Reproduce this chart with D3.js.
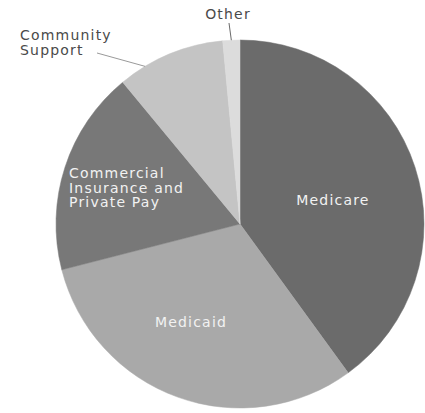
<!DOCTYPE html>
<html>
<head>
<meta charset="utf-8">
<script src="https://cdn.jsdelivr.net/npm/d3@7"></script>
<style>
  html, body { margin: 0; padding: 0; background: #fff; }
  svg { display: block; }
  text { font-family: "DejaVu Sans", sans-serif; }
</style>
</head>
<body>
<svg id="chart" width="425" height="413"></svg>
<script>
const categories = ["Medicare", "Medicaid", "Commercial Insurance and Private Pay", "Community Support", "Other"];
const values = [40, 31, 18, 9.5, 1.5];
const colors = ["#6b6b6b", "#a9a9a9", "#787878", "#c4c4c4", "#dcdcdc"];

const svg = d3.select("#chart");
const cx = 240, cy = 224, r = 184;
const g = svg.append("g").attr("transform", `translate(${cx},${cy})`);

const data = categories.map((c, i) => ({ name: c, value: values[i], color: colors[i] }));
const pie = d3.pie().sort(null).value(d => d.value).startAngle(0).endAngle(2 * Math.PI);
const arcs = pie(data);
const arc = d3.arc().innerRadius(0).outerRadius(r);

g.selectAll("path").data(arcs).enter().append("path")
  .attr("d", arc)
  .attr("fill", d => d.data.color)
  .attr("stroke", d => d.data.color)
  .attr("stroke-width", 0.5);

const fs = 14, ls = 1.2;

// Inside labels
const inside = [
  { i: 0, lines: ["Medicare"], anchor: "middle", dx: 93, dy: -19 },
  { i: 1, lines: ["Medicaid"], anchor: "middle", dx: -49, dy: 103 },
  { i: 2, lines: ["Commercial", "Insurance and", "Private Pay"], anchor: "start", dx: -171, dy: -46 }
];
inside.forEach(l => {
  const t = g.append("text")
    .attr("x", l.dx).attr("y", l.dy)
    .attr("text-anchor", l.anchor)
    .attr("fill", "#f2f2f2")
    .attr("font-size", fs)
    .attr("letter-spacing", ls);
  l.lines.forEach((s, k) => {
    t.append("tspan").attr("x", l.dx).attr("dy", k === 0 ? 0 : 14.5).text(s);
  });
});

function edgePoint(a, rr) {
  return [Math.sin(a) * rr, -Math.cos(a) * rr];
}
// Community Support
const cs = arcs[3];
const csA = cs.startAngle + (cs.endAngle - cs.startAngle) * 0.25;
const csP = edgePoint(csA, r);
g.append("line")
  .attr("x1", 97 - cx).attr("y1", 53 - cy)
  .attr("x2", csP[0]).attr("y2", csP[1])
  .attr("stroke", "#9a9a9a").attr("stroke-width", 1);
const tcs = g.append("text").attr("fill", "#4a4a4a").attr("font-size", fs).attr("letter-spacing", ls);
tcs.append("tspan").attr("x", 20 - cx).attr("y", 40 - cy).text("Community");
tcs.append("tspan").attr("x", 20 - cx).attr("dy", 14.5).text("Support");

// Other
const ot = arcs[4];
const otA = (ot.startAngle + ot.endAngle) / 2;
const otP = edgePoint(otA, r);
g.append("line")
  .attr("x1", 229 - cx).attr("y1", 23 - cy)
  .attr("x2", otP[0]).attr("y2", otP[1])
  .attr("stroke", "#6a6a6a").attr("stroke-width", 1);
g.append("text")
  .attr("x", 228 - cx).attr("y", 19 - cy)
  .attr("text-anchor", "middle")
  .attr("fill", "#4a4a4a").attr("font-size", fs).attr("letter-spacing", ls)
  .text("Other");
</script>
</body>
</html>
